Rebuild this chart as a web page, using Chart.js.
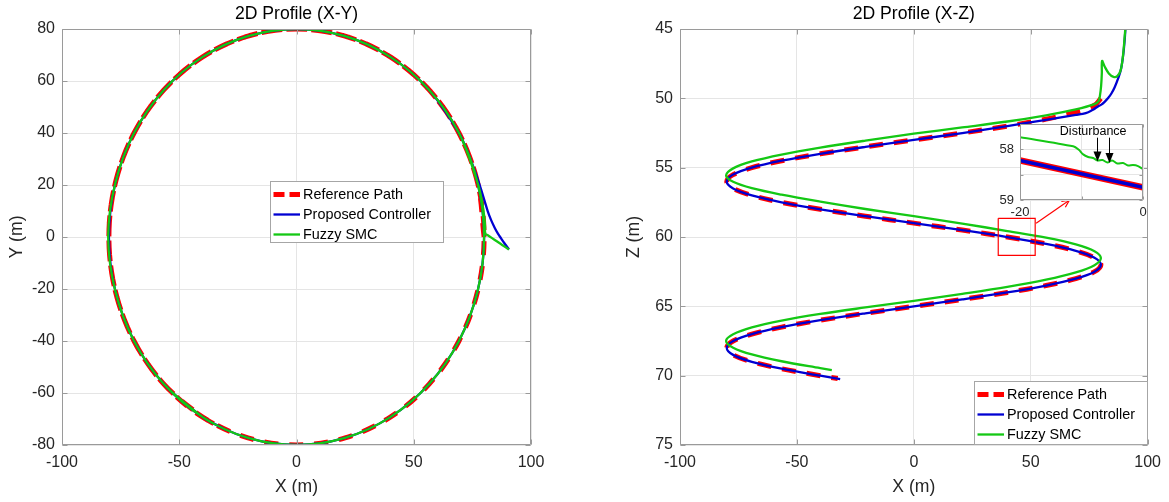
<!DOCTYPE html>
<html>
<head>
<meta charset="utf-8">
<title>2D Profiles</title>
<script src="https://cdn.jsdelivr.net/npm/chart.js@4.4.1/dist/chart.umd.min.js"></script>
<style>
  html, body { margin: 0; padding: 0; background: #ffffff; }
  #wrap { position: relative; width: 1169px; height: 502px; overflow: hidden; background: #ffffff; }
  canvas { position: absolute; }
  #xy { left: 0; top: 0; }
  #xz { left: 590px; top: 0; }
  #zoom { left: 988px; top: 110px; }
</style>
</head>
<body>
<div id="wrap">
  <canvas id="xy" width="590" height="502"></canvas>
  <canvas id="xz" width="579" height="502"></canvas>
  <canvas id="zoom" width="174" height="118"></canvas>
</div>
<script>
// ---- Reference helix (radius 80 m, 12 m of depth per turn) ----
const refX = [80, 77.27, 69.28, 56.57, 40, 20.71, 0, -20.71, -40, -56.57, -69.28, -77.27, -80, -77.27, -69.28, -56.57, -40, -20.71, 0, 20.71, 40, 56.57, 69.28, 77.27, 80,
              77.27, 69.28, 56.57, 40, 20.71, 0, -20.71, -40, -56.57, -69.28, -77.27, -80, -77.27, -69.28, -56.57, -40, -32.54];
const refY = [0, 20.71, 40, 56.57, 69.28, 77.27, 80, 77.27, 69.28, 56.57, 40, 20.71, 0, -20.71, -40, -56.57, -69.28, -77.27, -80, -77.27, -69.28, -56.57, -40, -20.71, 0,
              20.71, 40, 56.57, 69.28, 77.27, 80, 77.27, 69.28, 56.57, 40, 20.71, 0, -20.71, -40, -56.57, -69.28, -73.08];
const refZ = [50, 50.5, 51, 51.5, 52, 52.5, 53, 53.5, 54, 54.5, 55, 55.5, 56, 56.5, 57, 57.5, 58, 58.5, 59, 59.5, 60, 60.5, 61, 61.5, 62,
              62.5, 63, 63.5, 64, 64.5, 65, 65.5, 66, 66.5, 67, 67.5, 68, 68.5, 69, 69.5, 70, 70.2];

// ---- Proposed controller trajectory ----
const propX = [90.6, 90.3, 89.6, 88.6, 87.3, 85.9, 84.5, 83.0, 81.6, 80.2, 78.6, 76.8, 74.6, 72.2,
               69.28, 56.57, 40, 20.71, 0, -20.71, -40, -56.57, -69.28, -77.27, -80, -77.27, -69.28, -56.57, -40, -20.71, 0, 20.71, 40, 56.57, 69.28, 77.27, 80,
               77.27, 69.28, 56.57, 40, 20.71, 0, -20.71, -40, -56.57, -69.28, -77.27, -80, -77.27, -69.28, -56.57, -40, -31.5];
const propY = [-4.8, -4.4, -3.5, -2.3, -0.6, 1.3, 3.6, 6.5, 9.8, 13.9, 18.6, 23.5, 29.0, 34.5,
               40, 56.57, 69.28, 77.27, 80, 77.27, 69.28, 56.57, 40, 20.71, 0, -20.71, -40, -56.57, -69.28, -77.27, -80, -77.27, -69.28, -56.57, -40, -20.71, 0,
               20.71, 40, 56.57, 69.28, 77.27, 80, 77.27, 69.28, 56.57, 40, 20.71, 0, -20.71, -40, -56.57, -69.28, -73.5];
const propZ = [44.6, 45.5, 46.8, 47.9, 48.6, 49.2, 49.65, 50.0, 50.25, 50.45, 50.6, 50.8, 51.0, 51.12,
               51.2, 51.55, 52, 52.5, 53, 53.5, 54, 54.5, 55, 55.5, 56, 56.5, 57, 57.5, 58, 58.5, 59, 59.5, 60, 60.5, 61, 61.5, 62,
               62.5, 63, 63.5, 64, 64.5, 65, 65.5, 66, 66.5, 67, 67.5, 68, 68.5, 69, 69.5, 70, 70.25];

// ---- Fuzzy SMC trajectory ----
const fuzzyX = [90.6, 90.2, 89.4, 88.4, 87.0, 85.4, 83.4, 81.6, 80.5, 80.4, 80.1, 79.6, 79.0,
                77.27, 69.28, 56.57, 40, 20.71, 0, -20.71, -40, -56.57, -69.28, -77.27, -80.3, -77.27, -69.28, -56.57, -40, -20.71, 0, 20.71, 40, 56.57, 69.28, 77.27, 80,
                77.27, 69.28, 56.57, 40, 20.71, 0, -20.71, -40, -56.57, -69.28, -77.27, -80.3, -77.27, -69.28, -56.57, -40, -35.07];
const fuzzyY = [-4.8, -4.56, -4.07, -3.47, -2.62, -1.65, -0.44, 0.65, 1.3, 4.0, 7.5, 11.0, 14.2,
                20.71, 40, 56.57, 69.28, 77.27, 80, 77.27, 69.28, 56.57, 40, 20.71, 0, -20.71, -40, -56.57, -69.28, -77.27, -80, -77.27, -69.28, -56.57, -40, -20.71, 0,
                20.71, 40, 56.57, 69.28, 77.27, 80, 77.27, 69.28, 56.57, 40, 20.71, 0, -20.71, -40, -56.57, -69.28, -71.9];
const fuzzyZ = [44.6, 45.5, 47.0, 48.0, 48.4, 48.45, 48.2, 47.7, 47.3, 48.2, 49.1, 49.8, 50.2,
                50.42, 50.8, 51.22, 51.67, 52.1, 52.55, 53.05, 53.55, 54.05, 54.55, 55.05, 55.57, 56.02, 56.48, 56.95, 57.45, 57.98, 58.5, 59.03, 59.57, 60.05, 60.53, 61.02, 61.52,
                62.03, 62.55, 63.08, 63.6, 64.1, 64.6, 65.08, 65.55, 66.03, 66.52, 67.02, 67.5, 67.98, 68.47, 68.96, 69.46, 69.6];

// ---- Close-up window marked on the X-Z view, and its pointer ----
const zoomBoxX = [36.1, 51.9, 51.9, 36.1, 36.1];
const zoomBoxZ = [58.65, 58.65, 61.33, 61.33, 58.65];
const pointerX = [52.3, 66.5];
const pointerZ = [59.0, 57.35];

// ---- Close-up data ----
const closeRefX = [-20, 0];
const closeRefZ = [58.22, 58.75];
const closeFuzzyX = [-20, -11.35, -10.43, -9.73, -8.92, -8.11, -7.41, -6.59, -5.78, -5.03, -4.16, -3.24, -2.43, -1.62, -0.81, 0];
const closeFuzzyZ = [57.76, 57.94, 58.01, 58.10, 58.15, 58.17, 58.22, 58.21, 58.26, 58.22, 58.28, 58.27, 58.32, 58.31, 58.33, 58.39];
const disturbanceLabel = 'Disturbance';
const disturbanceLabelAt = [-8.1, 57.64];
const disturbanceX = [-7.4, -5.5];
const disturbanceTailZ = 57.77;
const disturbanceTipZ = [58.24, 58.27];

// ---- Axis ticks ----
const xTicks = { min: -100, max: 100, step: 50 };
const yTicksXY = { min: -80, max: 80, step: 20 };
const zTicksXZ = { min: 45, max: 75, step: 5 };

// ---------------------------------------------------------------
const FONT = "'Liberation Sans', Arial, Helvetica, sans-serif";
Chart.defaults.font.family = FONT;
Chart.defaults.color = '#262626';

const RED = '#ff0000', BLUE = '#0000d2', GREEN = '#14c814';
const GRID = '#e5e5e5', BOX = '#9a9a9a', TXT = '#262626';
const DASH = [14, 11];

function pts(xs, ys) { return xs.map((x, i) => ({ x: x, y: ys[i] })); }

function pathSet(label, xs, ys, color, width, dash, order) {
  return {
    label: label, data: pts(xs, ys), showLine: true,
    borderColor: color, backgroundColor: color, borderWidth: width,
    borderDash: dash || [], borderCapStyle: 'butt',
    pointRadius: 0, pointHoverRadius: 0, tension: 0.34,
    order: order, clip: 0, inLegend: true
  };
}

// Axes box with inward tick marks
const matlabBox = {
  id: 'matlabBox',
  beforeDraw(chart, args, o) {
    if (!o.fill) return;
    const a = chart.chartArea, ctx = chart.ctx;
    ctx.save();
    ctx.fillStyle = o.fill;
    ctx.fillRect(a.left, a.top, a.width, a.height);
    ctx.restore();
  },
  afterDatasetsDraw(chart, args, o) {
    const { ctx, chartArea: a, scales } = chart;
    const L = Math.round(a.left) + 0.5, R = Math.round(a.right) - 0.5;
    const T = Math.round(a.top) + 0.5, B = Math.round(a.bottom) - 0.5;
    const len = o.tickLen || 0;
    ctx.save();
    ctx.strokeStyle = o.color;
    ctx.lineWidth = 1;
    ctx.beginPath();
    scales.x.ticks.forEach((t, i) => {
      const p = Math.round(scales.x.getPixelForTick(i)) + 0.5;
      ctx.moveTo(p, B); ctx.lineTo(p, B - len);
      ctx.moveTo(p, T); ctx.lineTo(p, T + len);
    });
    scales.y.ticks.forEach((t, i) => {
      const p = Math.round(scales.y.getPixelForTick(i)) + 0.5;
      ctx.moveTo(L, p); ctx.lineTo(L + len, p);
      ctx.moveTo(R, p); ctx.lineTo(R - len, p);
    });
    ctx.rect(L, T, R - L, B - T);
    ctx.stroke();
    ctx.restore();
  }
};

// Legend box placed inside the plot area
const boxLegend = {
  id: 'boxLegend',
  afterDraw(chart, args, o) {
    const { ctx, chartArea: a } = chart;
    const w = o.width, h = o.height;
    const x0 = Math.round(o.right !== undefined ? a.right - o.right - w : a.left + o.left);
    const y0 = Math.round(o.bottom !== undefined ? a.bottom - o.bottom - h : a.top + o.top);
    ctx.save();
    ctx.fillStyle = '#ffffff';
    ctx.fillRect(x0, y0, w, h);
    ctx.strokeStyle = o.borderColor;
    ctx.lineWidth = 1;
    ctx.strokeRect(x0 + 0.5, y0 + 0.5, w - 1, h - 1);
    const items = chart.data.datasets.filter(d => d.inLegend);
    ctx.font = o.fontSize + 'px ' + FONT;
    ctx.textBaseline = 'middle';
    ctx.textAlign = 'left';
    items.forEach((d, i) => {
      const y = Math.round(y0 + o.firstRow + i * o.rowGap) + 0.5;
      ctx.strokeStyle = d.borderColor;
      ctx.lineWidth = d.legendWidth || d.borderWidth;
      ctx.lineCap = 'butt';
      ctx.setLineDash(d.legendDash || d.borderDash || []);
      ctx.beginPath();
      ctx.moveTo(x0 + o.sampleStart, y);
      ctx.lineTo(x0 + o.sampleEnd, y);
      ctx.stroke();
      ctx.setLineDash([]);
      ctx.fillStyle = '#000000';
      ctx.fillText(d.label, x0 + o.textStart, y + 0.5);
    });
    ctx.restore();
  }
};

// Open arrow head at the end of a pointer line
const pointerHead = {
  id: 'pointerHead',
  afterDatasetsDraw(chart) {
    const ctx = chart.ctx;
    chart.data.datasets.forEach((d, i) => {
      if (!d.arrowHead) return;
      const el = chart.getDatasetMeta(i).data;
      const p1 = el[el.length - 2], p2 = el[el.length - 1];
      const ang = Math.atan2(p2.y - p1.y, p2.x - p1.x);
      const len = 8, spread = 0.45;
      ctx.save();
      ctx.strokeStyle = d.borderColor;
      ctx.lineWidth = d.borderWidth;
      ctx.beginPath();
      ctx.moveTo(p2.x - len * Math.cos(ang - spread), p2.y - len * Math.sin(ang - spread));
      ctx.lineTo(p2.x, p2.y);
      ctx.lineTo(p2.x - len * Math.cos(ang + spread), p2.y - len * Math.sin(ang + spread));
      ctx.stroke();
      ctx.restore();
    });
  }
};

// Disturbance label and arrows in the close-up
const disturbanceNotes = {
  id: 'disturbanceNotes',
  afterDatasetsDraw(chart) {
    const { ctx, scales: { x, y } } = chart;
    ctx.save();
    ctx.fillStyle = '#000000';
    ctx.strokeStyle = '#000000';
    ctx.lineWidth = 1;
    ctx.font = '12.5px ' + FONT;
    ctx.textAlign = 'center';
    ctx.textBaseline = 'middle';
    ctx.fillText(disturbanceLabel, x.getPixelForValue(disturbanceLabelAt[0]), y.getPixelForValue(disturbanceLabelAt[1]));
    disturbanceX.forEach((ax, i) => {
      const px = Math.round(x.getPixelForValue(ax)) + 0.5;
      const y0 = y.getPixelForValue(disturbanceTailZ);
      const y1 = y.getPixelForValue(disturbanceTipZ[i]);
      ctx.beginPath();
      ctx.moveTo(px, y0);
      ctx.lineTo(px, y1 - 9);
      ctx.stroke();
      ctx.beginPath();
      ctx.moveTo(px, y1);
      ctx.lineTo(px - 4, y1 - 10);
      ctx.lineTo(px + 4, y1 - 10);
      ctx.closePath();
      ctx.fill();
    });
    ctx.restore();
  }
};

function xAxis() {
  return {
    type: 'linear', position: 'bottom', min: xTicks.min, max: xTicks.max,
    ticks: { stepSize: xTicks.step, autoSkip: false, maxRotation: 0, padding: 8, color: TXT, font: { size: 16 } },
    grid: { color: GRID, drawTicks: false },
    border: { display: false },
    title: { display: true, text: 'X (m)', color: TXT, font: { size: 17.6 }, padding: { top: 0, bottom: 4 } },
    afterFit(s) { s.height = 57; }
  };
}

function yAxis(range, text, reverse, titlePad) {
  return {
    type: 'linear', position: 'left', min: range.min, max: range.max, reverse: !!reverse,
    ticks: { stepSize: range.step, autoSkip: false, padding: 7, color: TXT, font: { size: 16 } },
    grid: { color: GRID, drawTicks: false },
    border: { display: false },
    title: { display: true, text: text, color: TXT, font: { size: 17.6 }, padding: { top: titlePad, bottom: 0 } },
    afterFit(s) { s.width = 62; }
  };
}

function titleOpts(text) {
  return { display: true, text: text, color: '#000000', font: { size: 17.6, weight: 'normal' },
           padding: { top: 4, bottom: 3.9 }, fullSize: false };
}

const legendStyle = { width: 174, borderColor: '#a6a6a6', fontSize: 14.4,
                      firstRow: 12.8, rowGap: 20.2, sampleStart: 3.5, sampleEnd: 30, textStart: 33 };

// ---- X-Y view ----
new Chart(document.getElementById('xy'), {
  type: 'scatter',
  data: {
    datasets: [
      Object.assign(pathSet('Reference Path', refX, refY, RED, 5, DASH, 3), { legendDash: [11, 5] }),
      pathSet('Proposed Controller', propX, propY, BLUE, 2.3, null, 2),
      pathSet('Fuzzy SMC', fuzzyX, fuzzyY, GREEN, 2.3, null, 1)
    ]
  },
  options: {
    responsive: false, animation: false, devicePixelRatio: 1, events: [],
    layout: { padding: { left: 0, right: 59, top: 0, bottom: 0 } },
    scales: { x: xAxis(), y: yAxis(yTicksXY, 'Y (m)', false, 7) },
    plugins: {
      legend: { display: false }, tooltip: { enabled: false },
      title: titleOpts('2D Profile (X-Y)'),
      matlabBox: { color: BOX, tickLen: 5 },
      boxLegend: Object.assign({ left: 208, top: 152, height: 62 }, legendStyle)
    }
  },
  plugins: [matlabBox, boxLegend]
});

// ---- X-Z view ----
new Chart(document.getElementById('xz'), {
  type: 'scatter',
  data: {
    datasets: [
      Object.assign(pathSet('Reference Path', refX, refZ, RED, 5, DASH, 3), { legendDash: [11, 5] }),
      pathSet('Proposed Controller', propX, propZ, BLUE, 2.3, null, 2),
      pathSet('Fuzzy SMC', fuzzyX, fuzzyZ, GREEN, 2.3, null, 1),
      Object.assign(pathSet('', zoomBoxX, zoomBoxZ, RED, 1.2, null, 0), { tension: 0, inLegend: false }),
      Object.assign(pathSet('', pointerX, pointerZ, RED, 1.2, null, 0), { tension: 0, inLegend: false, arrowHead: true })
    ]
  },
  options: {
    responsive: false, animation: false, devicePixelRatio: 1, events: [],
    layout: { padding: { left: 28, right: 20, top: 0, bottom: 0 } },
    scales: { x: xAxis(), y: yAxis(zTicksXZ, 'Z (m)', true, 5.4) },
    plugins: {
      legend: { display: false }, tooltip: { enabled: false },
      title: titleOpts('2D Profile (X-Z)'),
      matlabBox: { color: BOX, tickLen: 5 },
      boxLegend: Object.assign({ right: 0, bottom: 0, height: 64 }, legendStyle)
    }
  },
  plugins: [matlabBox, pointerHead, boxLegend]
});

// ---- Close-up of the disturbance ----
new Chart(document.getElementById('zoom'), {
  type: 'scatter',
  data: {
    datasets: [
      Object.assign(pathSet('Reference Path', closeRefX, closeRefZ, RED, 6.5, null, 3), { tension: 0 }),
      Object.assign(pathSet('Proposed Controller', closeRefX, closeRefZ, BLUE, 3.5, null, 2), { tension: 0 }),
      Object.assign(pathSet('Fuzzy SMC', closeFuzzyX, closeFuzzyZ, GREEN, 2, null, 1), { tension: 0.3 })
    ]
  },
  options: {
    responsive: false, animation: false, devicePixelRatio: 1, events: [],
    layout: { padding: { left: 0, right: 19, top: 14, bottom: 0 } },
    scales: {
      x: {
        type: 'linear', min: -20, max: 0,
        ticks: { stepSize: 10, autoSkip: false, maxRotation: 0, padding: 5, color: TXT, font: { size: 13 },
                 callback: v => (v === -20 || v === 0) ? String(v) : '' },
        grid: { color: GRID, drawTicks: false }, border: { display: false },
        afterFit(s) { s.height = 28; }
      },
      y: {
        type: 'linear', min: 57.5, max: 59, reverse: true,
        ticks: { stepSize: 0.5, autoSkip: false, padding: 6, color: TXT, font: { size: 13 },
                 callback: v => Number.isInteger(v) ? String(v) : '' },
        grid: { color: GRID, drawTicks: false }, border: { display: false },
        afterFit(s) { s.width = 32; }
      }
    },
    plugins: {
      legend: { display: false }, tooltip: { enabled: false }, title: { display: false },
      matlabBox: { color: BOX, tickLen: 3, fill: '#ffffff' }
    }
  },
  plugins: [matlabBox, disturbanceNotes]
});
</script>
</body>
</html>
